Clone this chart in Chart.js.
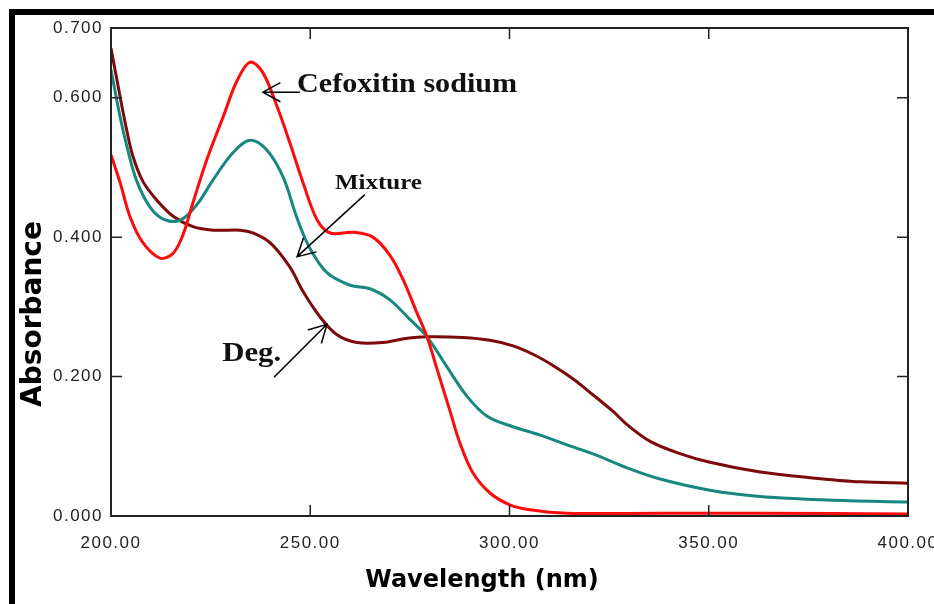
<!DOCTYPE html>
<html>
<head>
<meta charset="utf-8">
<script src="https://cdn.jsdelivr.net/npm/chart.js@4.4.1/dist/chart.umd.min.js"></script>
<style>
  html, body { margin: 0; padding: 0; background: #fff; }
  #wrap { position: relative; width: 934px; height: 604px; overflow: hidden; background: #fff; }
  #frame { position: absolute; left: 9px; top: 9px; right: -10px; bottom: -10px;
           border-left: 6px solid #000; border-top: 6px solid #000; pointer-events: none; }
  canvas { position: absolute; left: 0; top: 0; }
</style>
</head>
<body>
<div id="wrap">
  <canvas id="spectra" width="934" height="604"></canvas>
  <div id="frame"></div>
</div>
<script>
// tick values shown on the axes
const xTicks = [200, 250, 300, 350, 400];
const yTicks = [0, 0.2, 0.4, 0.6, 0.7];

// Cefoxitin sodium (red)
const cefoxitinWavelength = [200, 202.3, 204.8, 208, 212.3, 215.6, 218.1, 220.6, 224.1, 228.1, 231.6, 234.9,
    238.1, 241.7, 244.9, 248.2, 251.7, 255, 260.7, 265.7, 270, 273.3, 276.8, 279.3, 281.8, 285.1, 287.6,
    290.8, 295.1, 300.1, 305.1, 314.4, 337.8, 362.9, 400];
const cefoxitinAbsorbance = [0.518, 0.478, 0.429, 0.392, 0.370, 0.377, 0.404, 0.450, 0.512, 0.572, 0.624, 0.651,
    0.636, 0.587, 0.535, 0.478, 0.425, 0.406, 0.407, 0.400, 0.374, 0.339, 0.291, 0.257, 0.211, 0.150, 0.104,
    0.062, 0.033, 0.016, 0.009, 0.004, 0.004, 0.004, 0.003];

// Mixture (teal)
const mixtureWavelength = [200, 202.3, 204, 206.5, 209.8, 213.1, 217.3, 221.6, 225.6, 230.6, 234.9, 239.1,
    243.2, 246.7, 249.9, 254.2, 260, 265, 270, 275, 279.3, 284.3, 289.3, 294.4, 300.9, 307.7, 314.4, 321,
    329.5, 337.8, 350.3, 362.9, 379.7, 400];
const mixtureAbsorbance = [0.640, 0.572, 0.530, 0.480, 0.443, 0.426, 0.424, 0.447, 0.482, 0.521, 0.539, 0.525,
    0.486, 0.427, 0.384, 0.349, 0.331, 0.326, 0.310, 0.282, 0.257, 0.214, 0.172, 0.143, 0.128, 0.116, 0.102, 0.089,
    0.069, 0.053, 0.037, 0.028, 0.023, 0.020];

// Degradation product (dark red)
const degWavelength = [200, 202.3, 204, 205.5, 208, 211.5, 215.6, 220.6, 225.6, 232.4, 235.6, 239.9, 244.9,
    248.2, 252.4, 256.7, 261.7, 268.3, 274.3, 279.3, 288.3, 295.1, 300.9, 305.9, 310.9, 315.9, 319.4, 326,
    329.5, 335.3, 342, 350.3, 362.9, 375.4, 388, 400];
const degAbsorbance = [0.671, 0.601, 0.552, 0.516, 0.480, 0.453, 0.430, 0.415, 0.410, 0.410, 0.406, 0.392, 0.357,
    0.322, 0.286, 0.260, 0.249, 0.249, 0.255, 0.257, 0.256, 0.252, 0.244, 0.232, 0.216, 0.197, 0.181, 0.150,
    0.131, 0.107, 0.091, 0.077, 0.063, 0.055, 0.049, 0.047];

// labels with arrows, placed in data units
const notes = [
    { text: "Cefoxitin sodium", size: 27, width: 220, at: [246.7, 0.618], from: [247.4, 0.608], to: [238.1, 0.608] },
    { text: "Mixture", size: 22, width: 87, at: [256.2, 0.477], from: [263.7, 0.461], to: [246.7, 0.372] },
    { text: "Deg.", size: 27, width: 59, at: [227.9, 0.232], from: [240.9, 0.199], to: [254.2, 0.275] }
];

function toPoints(xs, ys) {
    return xs.map((x, i) => ({ x: x, y: ys[i] }));
}

function arrow(ctx, x1, y1, x2, y2) {
    const ang = Math.atan2(y2 - y1, x2 - x1);
    const len = 20, spread = 0.5;
    ctx.beginPath();
    ctx.moveTo(x1, y1);
    ctx.lineTo(x2, y2);
    ctx.moveTo(x2 - len * Math.cos(ang - spread), y2 - len * Math.sin(ang - spread));
    ctx.lineTo(x2, y2);
    ctx.lineTo(x2 - len * Math.cos(ang + spread), y2 - len * Math.sin(ang + spread));
    ctx.stroke();
}

const framePlugin = {
    id: 'framePlugin',
    beforeDraw(chart) {
        chart.ctx.letterSpacing = '1.5px';
    },
    afterDatasetsDraw(chart) {
        const ctx = chart.ctx;
        const a = chart.chartArea;
        const x = chart.scales.x, y = chart.scales.y;
        ctx.save();
        ctx.letterSpacing = '0px';

        // plot box
        ctx.strokeStyle = '#222';
        ctx.lineWidth = 2;
        ctx.strokeRect(a.left, a.top, a.right - a.left, a.bottom - a.top);

        // inward tick marks on all four sides
        ctx.lineWidth = 1.5;
        ctx.beginPath();
        xTicks.slice(1, -1).forEach(v => {
            const px = x.getPixelForValue(v);
            ctx.moveTo(px, a.bottom); ctx.lineTo(px, a.bottom - 11);
            ctx.moveTo(px, a.top); ctx.lineTo(px, a.top + 11);
        });
        yTicks.slice(1, -1).forEach(v => {
            const py = y.getPixelForValue(v);
            ctx.moveTo(a.left, py); ctx.lineTo(a.left + 11, py);
            ctx.moveTo(a.right, py); ctx.lineTo(a.right - 11, py);
        });
        ctx.stroke();

        // axis titles
        ctx.fillStyle = '#000';
        ctx.textAlign = 'center';
        ctx.textBaseline = 'middle';
        ctx.font = 'bold 24px "DejaVu Sans"';
        ctx.fillText('Wavelength (nm)', 482, 581);
        ctx.save();
        ctx.translate(34, 314);
        ctx.rotate(-Math.PI / 2);
        ctx.font = 'bold 28px "DejaVu Sans"';
        ctx.fillText('Absorbance', 0, 0);
        ctx.restore();

        // curve labels (squeezed/stretched to the width seen in the figure)
        ctx.strokeStyle = '#000';
        ctx.lineWidth = 1.5;
        ctx.textAlign = 'left';
        notes.forEach(n => {
            ctx.font = 'bold ' + n.size + 'px "Liberation Serif"';
            const w = ctx.measureText(n.text).width;
            ctx.save();
            ctx.translate(x.getPixelForValue(n.at[0]), y.getPixelForValue(n.at[1]));
            ctx.scale(n.width / w, 1);
            ctx.fillStyle = '#111';
            ctx.fillText(n.text, 0, 0);
            ctx.restore();
            arrow(ctx, x.getPixelForValue(n.from[0]), y.getPixelForValue(n.from[1]),
                x.getPixelForValue(n.to[0]), y.getPixelForValue(n.to[1]));
        });
        ctx.restore();
    }
};

const ctx = document.getElementById('spectra').getContext('2d');
new Chart(ctx, {
    type: 'line',
    data: {
        datasets: [
            { label: 'Cefoxitin sodium', data: toPoints(cefoxitinWavelength, cefoxitinAbsorbance), borderColor: '#ff0a0a' },
            { label: 'Mixture', data: toPoints(mixtureWavelength, mixtureAbsorbance), borderColor: '#17877f' },
            { label: 'Deg.', data: toPoints(degWavelength, degAbsorbance), borderColor: '#7c0a0a' }
        ]
    },
    options: {
        responsive: false,
        animation: false,
        events: [],
        layout: { padding: { top: 28, right: 26, left: 0, bottom: 0 } },
        elements: {
            point: { radius: 0 },
            line: { borderWidth: 3, tension: 0.35, fill: false }
        },
        plugins: { legend: { display: false }, tooltip: { enabled: false } },
        scales: {
            x: {
                type: 'linear', min: 200, max: 400,
                grid: { display: false, drawTicks: false },
                border: { display: false },
                afterBuildTicks: s => { s.ticks = xTicks.map(v => ({ value: v })); },
                afterFit: s => { s.height = 88; s.paddingLeft = 0; s.paddingRight = 0; },
                ticks: {
                    padding: 17, maxRotation: 0, autoSkip: false, color: '#222',
                    font: { family: '"Liberation Sans"', size: 17 },
                    callback: v => Number(v).toFixed(2)
                }
            },
            y: {
                type: 'linear', min: 0, max: 0.7,
                grid: { display: false, drawTicks: false },
                border: { display: false },
                afterBuildTicks: s => { s.ticks = yTicks.map(v => ({ value: v })); },
                afterFit: s => { s.width = 111; s.paddingTop = 0; s.paddingBottom = 0; },
                ticks: {
                    padding: 8, autoSkip: false, color: '#222',
                    font: { family: '"Liberation Sans"', size: 17 },
                    callback: v => Number(v).toFixed(3)
                }
            }
        }
    },
    plugins: [framePlugin]
});
</script>
</body>
</html>
